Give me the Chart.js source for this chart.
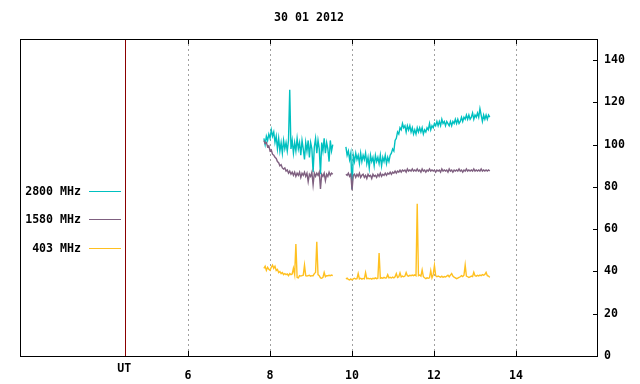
<!DOCTYPE html>
<html>
<head>
<meta charset="utf-8">
<script src="https://cdn.jsdelivr.net/npm/chart.js@4.4.1/dist/chart.umd.min.js"></script>
<style>
  html, body { margin: 0; padding: 0; background: #fff; }
  canvas { display: block; }
</style>
</head>
<body>
<canvas id="chart" width="640" height="384"></canvas>
<script>
const title = '30 01 2012';
const xTicks = [6, 8, 10, 12, 14];
const yTicks = [0, 20, 40, 60, 80, 100, 120, 140];
const utHour = 4.47;
const seriesNames = ['2800 MHz', '1580 MHz', '403 MHz'];
const seriesColors = ['#00c0c0', '#7f6080', '#ffc020'];

// UT hours of the samples (null row at 9.69 = data gap)
const hours = [
  7.85, 7.88, 7.91, 7.94, 7.97, 8.00, 8.03, 8.06, 8.09, 8.12,
  8.15, 8.18, 8.21, 8.24, 8.27, 8.30, 8.33, 8.36, 8.39, 8.42,
  8.45, 8.48, 8.51, 8.54, 8.57, 8.60, 8.63, 8.66, 8.69, 8.72,
  8.75, 8.78, 8.81, 8.84, 8.87, 8.90, 8.93, 8.96, 8.99, 9.02,
  9.05, 9.08, 9.11, 9.14, 9.17, 9.20, 9.23, 9.26, 9.29, 9.32,
  9.35, 9.38, 9.41, 9.44, 9.47, 9.50, 9.53,
  9.69,
  9.85, 9.88, 9.91, 9.94, 9.97, 10.00, 10.03, 10.06, 10.09, 10.12,
  10.15, 10.18, 10.21, 10.24, 10.27, 10.30, 10.33, 10.36, 10.39, 10.42,
  10.45, 10.48, 10.51, 10.54, 10.57, 10.60, 10.63, 10.66, 10.69, 10.72,
  10.75, 10.78, 10.81, 10.84, 10.87, 10.90, 10.93, 10.96, 10.99, 11.02,
  11.05, 11.08, 11.11, 11.14, 11.17, 11.20, 11.23, 11.26, 11.29, 11.32,
  11.35, 11.38, 11.41, 11.44, 11.47, 11.50, 11.53, 11.56, 11.59, 11.62,
  11.65, 11.68, 11.71, 11.74, 11.77, 11.80, 11.83, 11.86, 11.89, 11.92,
  11.95, 11.98, 12.01, 12.04, 12.07, 12.10, 12.13, 12.16, 12.19, 12.22,
  12.25, 12.28, 12.31, 12.34, 12.37, 12.40, 12.43, 12.46, 12.49, 12.52,
  12.55, 12.58, 12.61, 12.64, 12.67, 12.70, 12.73, 12.76, 12.79, 12.82,
  12.85, 12.88, 12.91, 12.94, 12.97, 13.00, 13.03, 13.06, 13.09, 13.12,
  13.15, 13.18, 13.21, 13.24, 13.27, 13.30, 13.33, 13.36
];

const mhz2800 = [
  103, 100, 104, 102, 105, 103, 107, 104, 106, 101,
  104, 98, 103, 97, 101, 96, 102, 98, 101, 97,
  102, 126, 98, 102, 96, 101, 97, 103, 98, 101,
  95, 102, 98, 93, 101, 97, 102, 94, 101, 98,
  87, 99, 103, 96, 102, 98, 86, 101, 97, 103,
  96, 101, 98, 92, 102, 97, 100,
  null,
  99, 95, 97, 93, 96, 79, 95, 92, 96, 93,
  95, 91, 96, 92, 95, 93, 96, 91, 94, 89,
  95, 92, 94, 90, 95, 92, 94, 91, 95, 90,
  94, 92, 95, 91, 94, 92, 95, 96, 98, 97,
  102, 103, 106, 105, 108, 107, 110, 108, 109, 106,
  109, 107, 109, 106, 108, 105, 107, 105, 108, 106,
  108, 106, 108, 105, 107, 106, 108, 107, 110, 107,
  109, 108, 110, 109, 111, 109, 111, 109, 112, 110,
  111, 109, 111, 110, 109, 111, 109, 111, 110, 112,
  110, 112, 110, 111, 113, 111, 113, 112, 114, 112,
  114, 112, 113, 115, 112, 114, 113, 115, 113, 117,
  114, 111, 114, 112, 114, 112, 114, 113
];

const mhz1580 = [
  102, 100.5, 101, 99, 99.5, 97, 97.5, 95.5, 95, 94,
  93.5, 92, 91.5, 90, 90.5, 89, 88.5, 89, 87.5, 88,
  86.5, 87.5, 86, 87, 85.5, 87, 85, 86.5, 85.5, 87,
  84.5, 86.5, 85.5, 87, 85, 86.5, 82.5, 86, 85, 87,
  81, 86.5, 85, 86.5, 85.5, 87, 79, 86, 85, 86.5,
  83, 86, 85, 87, 85.5, 86.5, 86,
  null,
  86, 85.5, 86.5, 85, 86, 78.5, 85.5, 86, 84.5, 86,
  85, 86.5, 84.5, 85.5, 86, 84.5, 85.5, 84, 86, 85,
  85.5, 84, 86, 85, 85.5, 84.5, 86, 85, 86.5, 85,
  86, 85.5, 86.5, 85.5, 86.5, 86, 87, 86, 87, 86.5,
  87.5, 86.5, 87.5, 87, 88, 87, 88, 87.5, 88, 87,
  88.5, 87.5, 88, 87.5, 88.5, 87.5, 88, 87.5, 88.5, 87.5,
  88, 87, 88.5, 87.5, 88, 87, 88, 87.5, 88.5, 87.5,
  88, 87.5, 88, 87, 88, 87.5, 88, 87, 88.5, 87.5,
  88, 87.5, 88, 87, 88.5, 87.5, 88, 87, 88, 87.5,
  88, 87.5, 88.5, 87.5, 88, 87, 88, 87.5, 88.5, 87.5,
  88, 87.5, 88, 87.5, 88.5, 87.5, 88, 87.5, 88, 87.5,
  88.5, 87.5, 88, 87.5, 88, 87.5, 88, 87.5
];

const mhz403 = [
  41.5, 42.5, 40.5, 42, 41, 40.5, 42, 43, 41.5, 42.5,
  40.5, 41, 39.5, 40, 39, 39.5, 38.5, 39, 38.5, 38.8,
  38, 39, 38.5, 38.8, 41.5, 38.5, 53, 37.2, 37, 38,
  37.8, 38, 38.2, 43, 38, 37.8, 38, 38.2, 37.8, 38,
  38, 39, 39.5, 54, 38.5, 38, 37, 36.8, 37.2, 39.5,
  37.5, 38, 38, 38.2, 38, 38.3, 38,
  null,
  36.5, 36.8, 36.2, 36, 36.5, 36, 36.5, 36.8, 36.4, 36.6,
  39, 36.5, 36.8, 36.4, 36.7, 36.5, 39.5, 36.6, 36.8, 36.5,
  36.7, 36.4, 36.8, 36.6, 37, 36.6, 36.8, 48.7, 36.8, 37,
  36.8, 37.2, 36.9, 37, 38.5, 37, 37.2, 36.9, 37.3, 37,
  37.5, 39, 37.2, 37.5, 39.3, 37.4, 37.8, 37.5, 37.8, 39.5,
  38, 37.8, 38.2, 38, 38.3, 38, 38.4, 38, 72, 38,
  38.3, 37.8, 40.7, 37.5, 37, 36.6, 37, 36.8, 37, 40.4,
  37, 38.5, 42.8, 38, 37.5, 37.8, 37.6, 37.3, 37.8, 37.2,
  37.6, 37.4, 37.8, 38.2, 37.5, 38.3, 39, 37.8, 37.3, 37,
  36.6, 36.9, 37.2, 37.5, 38, 37.6, 38.2, 43, 37.8, 37.5,
  37.2, 37.4, 37.8, 37.6, 39.6, 38, 37.8, 38.2, 37.9, 38.3,
  38, 38.5, 38.2, 38.6, 39.6, 38, 37.8, 37.2
];

const FONT = "bold 11.6px 'DejaVu Sans Mono', 'Liberation Mono', monospace";
const tickFont = { family: "'DejaVu Sans Mono'", size: 11.6, weight: 'bold' };

function points(values) {
  return hours.map((h, i) => ({ x: h, y: values[i] }));
}

// gnuplot-like frame, grid, UT marker, legend and title
const gnuFrame = {
  id: 'gnuFrame',
  beforeDatasetsDraw(chart) {
    const { ctx, chartArea: a, scales: { x } } = chart;
    ctx.save();
    ctx.lineWidth = 1;
    ctx.strokeStyle = '#a0a0a0';
    ctx.setLineDash([2, 3]);
    xTicks.forEach(v => {
      const px = Math.round(x.getPixelForValue(v)) + 0.5;
      ctx.beginPath();
      ctx.moveTo(px, a.top);
      ctx.lineTo(px, a.bottom);
      ctx.stroke();
    });
    ctx.setLineDash([]);
    ctx.strokeStyle = '#8b0000';
    const ux = Math.round(x.getPixelForValue(utHour)) + 0.5;
    ctx.beginPath();
    ctx.moveTo(ux, a.top);
    ctx.lineTo(ux, a.bottom);
    ctx.stroke();
    ctx.restore();
  },
  afterDatasetsDraw(chart) {
    const { ctx, chartArea: a, scales: { x, y } } = chart;
    ctx.save();
    ctx.lineWidth = 1;
    ctx.strokeStyle = '#000';
    ctx.strokeRect(a.left + 0.5, a.top + 0.5, a.right - a.left - 1, a.bottom - a.top);

    ctx.beginPath();
    xTicks.forEach(v => {
      const px = Math.round(x.getPixelForValue(v)) + 0.5;
      ctx.moveTo(px, a.top);
      ctx.lineTo(px, a.top + 5);
      ctx.moveTo(px, a.bottom);
      ctx.lineTo(px, a.bottom - 5);
    });
    yTicks.forEach(v => {
      const py = Math.round(y.getPixelForValue(v)) + 0.5;
      ctx.moveTo(a.right, py);
      ctx.lineTo(a.right - 5, py);
    });
    ctx.stroke();

    ctx.fillStyle = '#000';
    ctx.font = FONT;
    ctx.textAlign = 'center';
    ctx.textBaseline = 'middle';
    ctx.fillText(title, (a.left + a.right) / 2, 18);
    ctx.fillText('UT', x.getPixelForValue(utHour) - 1, 369);

    const legendY = [191.5, 219.5, 248.5];
    seriesNames.forEach((name, i) => {
      ctx.fillStyle = '#000';
      ctx.textAlign = 'right';
      ctx.fillText(name, 81, legendY[i]);
      ctx.strokeStyle = seriesColors[i];
      ctx.beginPath();
      ctx.moveTo(89, legendY[i]);
      ctx.lineTo(121, legendY[i]);
      ctx.stroke();
    });
    ctx.restore();
  }
};

new Chart(document.getElementById('chart'), {
  type: 'line',
  data: {
    datasets: [
      { label: seriesNames[0], data: points(mhz2800), borderColor: seriesColors[0], order: 3 },
      { label: seriesNames[1], data: points(mhz1580), borderColor: seriesColors[1], order: 2 },
      { label: seriesNames[2], data: points(mhz403), borderColor: seriesColors[2], order: 1 }
    ]
  },
  options: {
    responsive: false,
    animation: false,
    devicePixelRatio: 1,
    spanGaps: false,
    layout: { padding: { left: 20, top: 39, right: 0, bottom: 0 } },
    elements: {
      point: { radius: 0 },
      line: { borderWidth: 1.4, tension: 0 }
    },
    plugins: {
      legend: { display: false },
      tooltip: { enabled: false },
      title: { display: false }
    },
    scales: {
      x: {
        type: 'linear',
        min: 1.9,
        max: 16,
        afterBuildTicks: s => { s.ticks = xTicks.map(v => ({ value: v })); },
        afterFit: s => { s.height = 28; },
        grid: { display: false, drawTicks: false },
        border: { display: false },
        ticks: { color: '#000', font: tickFont, padding: 13, maxRotation: 0 }
      },
      y: {
        position: 'right',
        min: 0,
        max: 150,
        afterBuildTicks: s => { s.ticks = yTicks.map(v => ({ value: v })); },
        afterFit: s => { s.width = 42; },
        grid: { display: false, drawTicks: false },
        border: { display: false },
        ticks: { color: '#000', font: tickFont, padding: 6 }
      }
    }
  },
  plugins: [gnuFrame]
});
</script>
</body>
</html>
